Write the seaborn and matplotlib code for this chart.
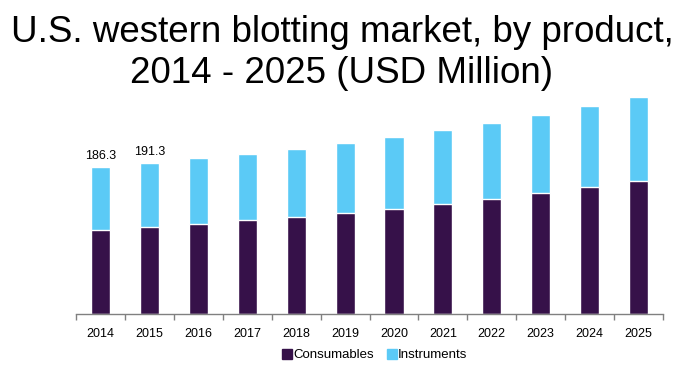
import pandas as pd
import matplotlib.pyplot as plt
import seaborn as sns
from matplotlib.lines import Line2D

years = ["2014", "2015", "2016", "2017", "2018", "2019",
         "2020", "2021", "2022", "2023", "2024", "2025"]
consumables = [106.4, 110.6, 114.0, 119.1, 122.9, 128.0,
               133.0, 139.4, 145.7, 153.3, 160.9, 168.5]
instruments = [79.9, 80.7, 83.7, 83.6, 86.2, 88.7,
               91.3, 93.8, 96.3, 98.9, 102.7, 106.5]
labels = {"2014": "186.3", "2015": "191.3"}

dark = "#361149"
blue = "#5BCAF6"

df = pd.DataFrame({"year": years, "Consumables": consumables, "Instruments": instruments})
df["total"] = df["Consumables"] + df["Instruments"]

sns.set_style("white")
plt.rcParams["font.family"] = ["Liberation Sans", "DejaVu Sans"]
plt.rcParams["text.color"] = "black"
plt.rcParams["xtick.color"] = "black"

fig = plt.figure(figsize=(6.81, 3.71), dpi=100)
ax = fig.add_axes([0.1116, 0.1536, 0.862, 0.6038])

sns.barplot(data=df, x="year", y="total", color=blue, width=0.39, saturation=1, ax=ax)
sns.barplot(data=df, x="year", y="Consumables", color=dark, width=0.39, saturation=1, ax=ax)

for i, y in enumerate(years):
    if y in labels:
        ax.text(i, df["total"][i] + 7, labels[y], ha="center", va="bottom",
                fontsize=9, color="black")

ax.set_xlim(-0.5, len(years) - 0.5)
ax.set_ylim(0, 284)
ax.set_xlabel("")
ax.set_ylabel("")
ax.set_yticks([])
for s in ["top", "right", "left"]:
    ax.spines[s].set_visible(False)
ax.spines["bottom"].set_color("#808080")
ax.spines["bottom"].set_linewidth(1)
ax.set_xticks(range(len(years)))
ax.set_xticklabels(years, fontsize=9)
ax.tick_params(axis="x", which="major", length=0, pad=10, labelcolor="black")
ax.set_xticks([i - 0.5 for i in range(len(years) + 1)], minor=True)
ax.tick_params(axis="x", which="minor", bottom=True, length=4, color="#808080", width=1)

fig.text(342 / 681, 1 - 41.7 / 371, "U.S. western blotting market, by product,",
         ha="center", va="baseline", fontsize=26.5, color="black")
fig.text(342 / 681, 1 - 82.7 / 371, "2014 - 2025 (USD Million)",
         ha="center", va="baseline", fontsize=26.5, color="black")

handles = [Line2D([], [], marker="s", linestyle="", color=dark, markersize=7),
           Line2D([], [], marker="s", linestyle="", color=blue, markersize=7)]
fig.legend(handles, ["Consumables", "Instruments"], loc="center",
           bbox_to_anchor=(0.55, 0.043), ncol=2, frameon=False, fontsize=9.5,
           handletextpad=0.05, columnspacing=1.0, handlelength=0.8)

fig.savefig("out.png", dpi=100)
